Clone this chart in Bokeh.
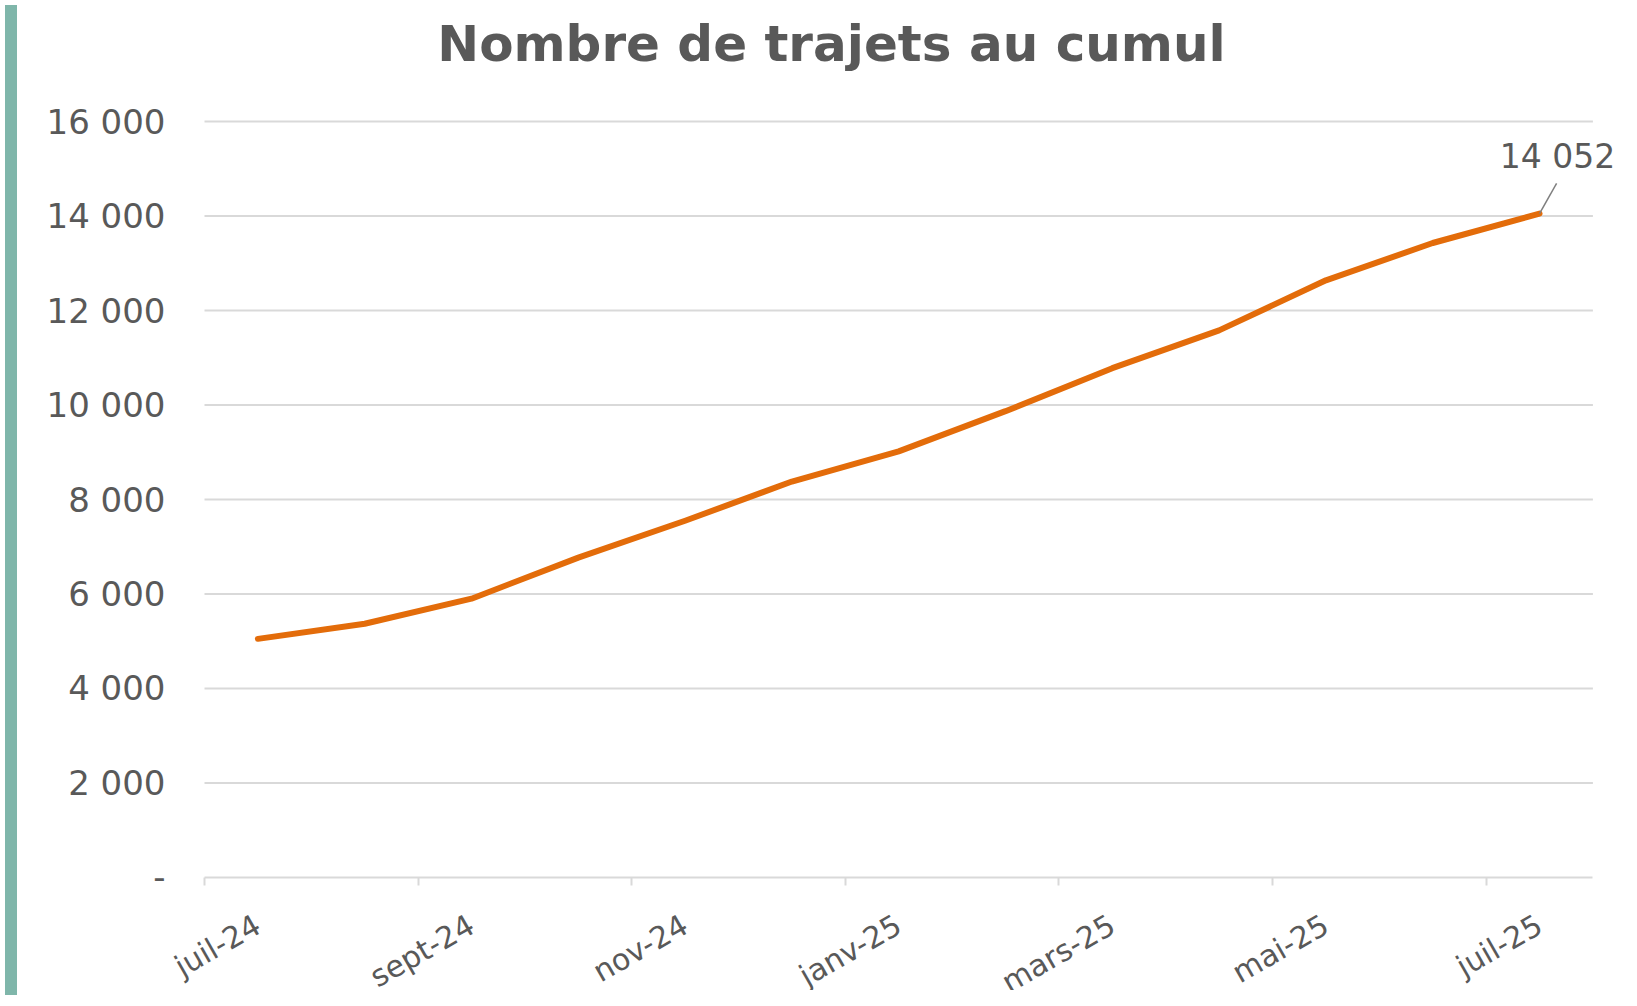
from bokeh.plotting import figure
from bokeh.models import Range1d, FixedTicker, Label, Div, ColumnDataSource
from bokeh.layouts import row
from bokeh.embed import file_html
from bokeh.resources import INLINE

# ---- data ----
months = ["juil-24", "août-24", "sept-24", "oct-24", "nov-24", "déc-24",
          "janv-25", "févr-25", "mars-25", "avr-25", "mai-25", "juin-25", "juil-25"]
trajets_cumul = [5050, 5370, 5900, 6770, 7550, 8380, 9020, 9870, 10780, 11580, 12640, 13430, 14052]
y_ticks = [0, 2000, 4000, 6000, 8000, 10000, 12000, 14000, 16000]
y_tick_labels = ["-", "2 000", "4 000", "6 000", "8 000", "10 000", "12 000", "14 000", "16 000"]
title_text = "Nombre de trajets au cumul"
last_label = "14 052"

FONT = "DejaVu Sans"
GRAY_TXT = "#595959"
GRID = "#d9d9d9"
ORANGE = "#e36c0a"

# ---- layout (pixels, measured from the top-left of the figure) ----
FIG_W, FIG_H = 1609, 990
ZERO_PX = 876      # vertical pixel of value 0
TOP_PX = 121       # vertical pixel of the top tick value
FRAME_H = 989
LEFT_PX = 182      # horizontal pixel of the left edge of the category span
CAT_PX = 106.8     # width of one category

xs = list(range(len(months)))
x_lo, x_hi = -0.5, len(months) - 0.5
k = (ZERO_PX - TOP_PX) / y_ticks[-1]          # px per unit
y_end = y_ticks[-1] + TOP_PX / k
y_start = -(FRAME_H - ZERO_PX) / k
x_start = x_lo - LEFT_PX / CAT_PX
x_end = x_start + FIG_W / CAT_PX

p = figure(width=FIG_W, height=FIG_H, output_backend="svg", toolbar_location=None,
           x_range=Range1d(x_start, x_end), y_range=Range1d(y_start, y_end),
           min_border_left=0, min_border_right=0, min_border_top=0, min_border_bottom=0)
p.title.visible = False
p.outline_line_color = None
p.background_fill_color = "white"
p.border_fill_color = "white"

# x axis, fixed at value 0 (labels are drawn inside the frame, below the zero line)
label_idx = xs[::2]
p.xaxis.fixed_location = y_ticks[0]
p.xaxis.bounds = (x_lo, x_hi)
p.xaxis.ticker = FixedTicker(ticks=label_idx, minor_ticks=[x_lo] + [i + 0.5 for i in xs[1::2]])
p.xaxis.major_label_overrides = {i: months[i] for i in label_idx}
p.xaxis.major_tick_line_color = None
p.xaxis.major_tick_out = 0
p.xaxis.major_tick_in = 0
p.xaxis.minor_tick_line_color = GRID
p.xaxis.minor_tick_line_width = 2
p.xaxis.minor_tick_out = 8
p.xaxis.minor_tick_in = 0
p.xaxis.axis_line_color = GRID
p.xaxis.axis_line_width = 2
p.xaxis.major_label_orientation = 0.52
p.xaxis.major_label_standoff = 37
p.xaxis.major_label_text_font = FONT
p.xaxis.major_label_text_font_size = "30px"
p.xaxis.major_label_text_color = GRAY_TXT
p.xgrid.visible = False

# y axis, fixed at the left edge of the category span
p.yaxis.fixed_location = x_lo
p.yaxis.bounds = (y_ticks[0], y_ticks[-1])
p.yaxis.ticker = FixedTicker(ticks=y_ticks)
p.yaxis.major_label_overrides = {t: s for t, s in zip(y_ticks, y_tick_labels)}
p.yaxis.axis_line_color = None
p.yaxis.major_tick_line_color = None
p.yaxis.major_tick_out = 0
p.yaxis.minor_tick_line_color = None
p.yaxis.major_label_standoff = 39
p.yaxis.major_label_text_font = FONT
p.yaxis.major_label_text_font_size = "34px"
p.yaxis.major_label_text_color = GRAY_TXT
p.ygrid.visible = False

# horizontal gridlines limited to the category span
grid_y = y_ticks[1:]
p.segment(x0=[x_lo] * len(grid_y), y0=grid_y, x1=[x_hi] * len(grid_y), y1=grid_y,
          line_color=GRID, line_width=2)

# line
src = ColumnDataSource(dict(x=xs, y=trajets_cumul))
p.line("x", "y", source=src, line_color=ORANGE, line_width=6, line_cap="round", line_join="round")

# leader line + last value label
LEADER_DX = 0.16
LEADER_DY = 640
p.segment(x0=[xs[-1]], y0=[trajets_cumul[-1]], x1=[xs[-1] + LEADER_DX], y1=[trajets_cumul[-1] + LEADER_DY],
          line_color="#7f7f7f", line_width=1.5)
p.add_layout(Label(x=xs[-1], y=trajets_cumul[-1], text=last_label, x_offset=18, y_offset=57,
                   text_align="center", text_baseline="alphabetic", text_font=FONT,
                   text_font_size="33px", text_color=GRAY_TXT))

# title (inside the top part of the frame, screen units)
p.add_layout(Label(x=809, y=947, x_units="screen", y_units="screen", text=title_text,
                   text_align="center", text_baseline="alphabetic", text_font=FONT,
                   text_font_style="bold", text_font_size="50px", text_color=GRAY_TXT))

bar = Div(width=12, height=FIG_H, styles={"background-color": "#7fb6aa"})
layout = row(bar, p, spacing=0)

open("out.html", "w").write(file_html(layout, INLINE))
